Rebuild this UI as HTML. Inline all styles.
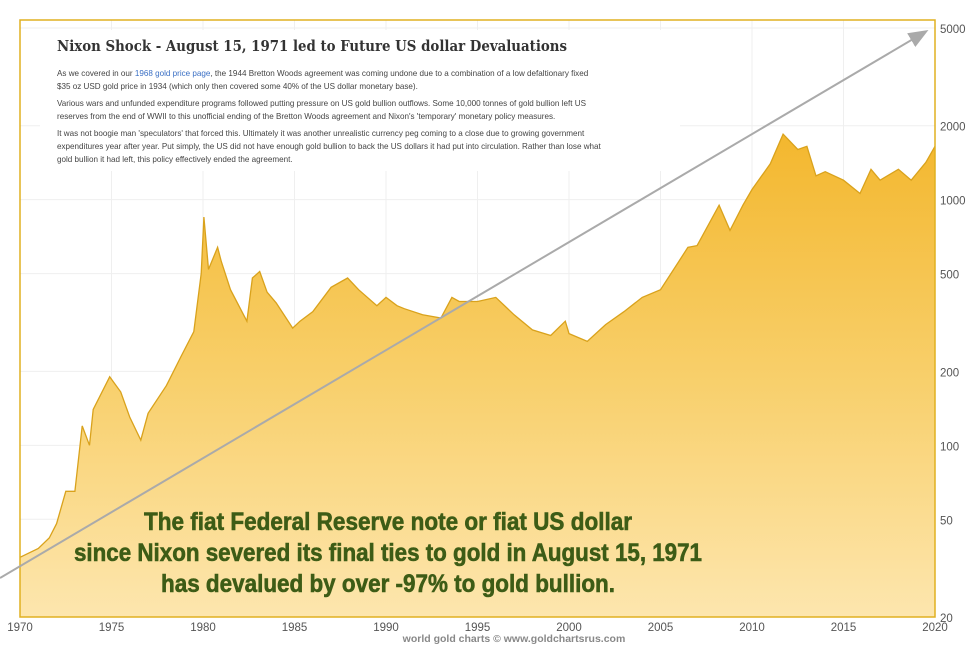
<!DOCTYPE html>
<html><head><meta charset="utf-8"><style>
body{margin:0;background:#fff;width:975px;height:646px;overflow:hidden;font-family:"Liberation Sans",sans-serif}
svg{display:block}
</style></head><body>
<svg id="chart" width="975" height="646" viewBox="0 0 975 646">
<defs>
<linearGradient id="fillg" x1="0" y1="0" x2="0" y2="1">
<stop offset="0" stop-color="#f3b72e"/><stop offset="0.5" stop-color="#f8cf6a"/><stop offset="1" stop-color="#fde6ae"/>
</linearGradient>
<marker id="ah" markerWidth="10" markerHeight="8" refX="8" refY="4" orient="auto"><path d="M0,0 L10,4 L0,8 z" fill="#aaa"/></marker>
</defs>
<g id="grid"></g>
<g id="series"></g>
<rect x="20" y="20" width="915" height="597" fill="none" stroke="#e0b020" stroke-width="1.5"/>
<g id="axes"></g>
<line x1="0" y1="578" x2="925" y2="32" stroke="#aaa" stroke-width="2" marker-end="url(#ah)"/>
<g>
<rect x="40" y="30" width="640" height="141" fill="#fff"/>
<text x="57" y="51" font-family="DejaVu Serif,serif" font-weight="bold" font-size="14.5" fill="#333" textLength="510" lengthAdjust="spacingAndGlyphs">Nixon Shock - August 15, 1971 led to Future US dollar Devaluations</text>
<g font-size="8.1" fill="#444">
<text x="57" y="76">As we covered in our <tspan fill="#3a6fc4">1968 gold price page</tspan>, the 1944 Bretton Woods agreement was coming undone due to a combination of a low defaltionary fixed</text>
<text x="57" y="89">$35 oz USD gold price in 1934 (which only then covered some 40% of the US dollar monetary base).</text>
<text x="57" y="106">Various wars and unfunded expenditure programs followed putting pressure on US gold bullion outflows. Some 10,000 tonnes of gold bullion left US</text>
<text x="57" y="119">reserves from the end of WWII to this unofficial ending of the Bretton Woods agreement and Nixon's 'temporary' monetary policy measures.</text>
<text x="57" y="136">It was not boogie man 'speculators' that forced this. Ultimately it was another unrealistic currency peg coming to a close due to growing government</text>
<text x="57" y="149">expenditures year after year. Put simply, the US did not have enough gold bullion to back the US dollars it had put into circulation. Rather than lose what</text>
<text x="57" y="162">gold bullion it had left, this policy effectively ended the agreement.</text>
</g></g>
<g font-family="Liberation Sans Narrow,Liberation Sans,sans-serif" font-weight="bold" font-size="25" fill="#3d5c16" text-anchor="middle" stroke="#3d5c16" stroke-width="0.6">
<text x="388" y="530" textLength="488" lengthAdjust="spacingAndGlyphs">The fiat Federal Reserve note or fiat US dollar</text>
<text x="388" y="561" textLength="628" lengthAdjust="spacingAndGlyphs">since Nixon severed its final ties to gold in August 15, 1971</text>
<text x="388" y="592" textLength="454" lengthAdjust="spacingAndGlyphs">has devalued by over -97% to gold bullion.</text>
</g>
<text x="514" y="642" text-anchor="middle" font-size="10.5" font-weight="bold" fill="#888">world gold charts © www.goldchartsrus.com</text>
</svg>
<script>
const years=[1970,1971,1971.6,1972,1972.5,1973,1973.4,1973.8,1974,1974.9,1975.5,1976,1976.6,1977,1978,1978.8,1979.5,1979.9,1980.05,1980.3,1980.8,1981,1981.5,1982.4,1982.7,1983.1,1983.5,1984,1984.9,1985.3,1986,1987,1987.9,1988.5,1989.5,1990,1990.6,1991,1992,1993,1993.6,1994,1995,1996,1997,1998,1999,1999.8,2000,2001,2002,2003,2004,2005,2006,2006.5,2007,2008.2,2008.8,2009.5,2010,2011,2011.7,2012.5,2013,2013.5,2014,2015,2015.9,2016.5,2017,2018,2018.7,2019.5,2020];
const prices=[35,38,42,48,65,65,120,100,140,190,165,130,105,135,175,230,290,500,850,520,640,560,430,320,480,510,420,380,300,320,350,440,480,430,370,400,370,360,340,330,400,385,385,400,340,295,280,320,285,265,310,350,400,430,560,640,650,950,750,950,1100,1400,1850,1600,1650,1250,1300,1200,1060,1330,1200,1330,1200,1420,1650];
const xTicks=[1970,1975,1980,1985,1990,1995,2000,2005,2010,2015,2020];
const yTicks=[20,50,100,200,500,1000,2000,5000];
const X0=20,X1=935,Y0=617,Y1=28;
const xs=y=>X0+(y-1970)/(2020-1970)*(X1-X0);
const ys=v=>Y0-(Math.log10(v)-Math.log10(20))/(Math.log10(5000)-Math.log10(20))*(Y0-Y1);
const NS="http://www.w3.org/2000/svg";
const grid=document.getElementById('grid'),axes=document.getElementById('axes'),ser=document.getElementById('series');
function mk(t,a,p){const e=document.createElementNS(NS,t);for(const k in a)e.setAttribute(k,a[k]);p.appendChild(e);return e;}
xTicks.forEach(t=>{
 const g=mk('line',{x1:xs(t),x2:xs(t),y1:20,y2:617,stroke:'#efefef'},grid);
 
 
 const l=mk('text',{x:xs(t),y:631,'text-anchor':'middle','font-size':11.5,fill:'#555'},axes);l.textContent=t;
 
 
});
yTicks.forEach(t=>{
 const g=mk('line',{x1:20,x2:935,y1:ys(t),y2:ys(t),stroke:'#efefef'},grid);
 
 
 const l=mk('text',{x:940,y:ys(t)+5,'font-size':11.5,fill:'#555'},axes);l.textContent=t;
 
 
});
let d='';years.forEach((y,i)=>{d+=(i?'L':'M')+xs(y).toFixed(1)+','+ys(prices[i]).toFixed(1);});
const area=mk('path',{d:d+`L${xs(years[years.length-1])},617L20,617Z`,fill:'url(#fillg)'},ser);


const line=mk('path',{d:d,fill:'none',stroke:'#d9a21c','stroke-width':1.3},ser);


</script>
</body></html>
